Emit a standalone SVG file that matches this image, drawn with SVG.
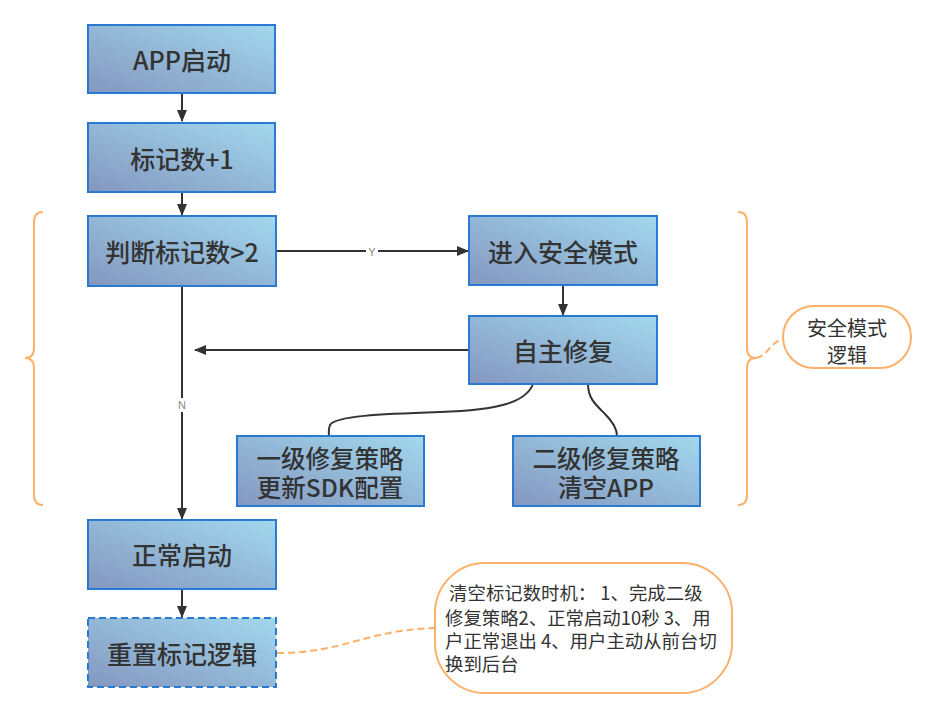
<svg xmlns="http://www.w3.org/2000/svg" width="936" height="718" viewBox="0 0 936 718">
<defs>
<linearGradient id="g" x1="0" y1="1" x2="1" y2="0">
<stop offset="0" stop-color="#8497bf"/>
<stop offset="1" stop-color="#a2d8ee"/>
</linearGradient>
<marker id="ah" markerWidth="12" markerHeight="10" refX="11" refY="5" orient="auto" markerUnits="userSpaceOnUse">
<path d="M0,0 L12,5 L0,10 Z" fill="#333"/>
</marker>
<style>
.box{fill:url(#g);stroke:#2a7ad2;stroke-width:2}
.dash{stroke-dasharray:7 4}
.t{font-family:"Noto Sans CJK SC","Noto Sans",sans-serif;font-size:25px;font-weight:500;fill:#333;text-anchor:middle;dominant-baseline:central}
.t2{font-size:24.5px}
.c{fill:none;stroke:#333;stroke-width:2}
.o{fill:none;stroke:#fdb06a;stroke-width:2}
.lab{font-family:"Liberation Sans",sans-serif;font-size:11px;fill:#888;text-anchor:middle;dominant-baseline:central}
.n{font-family:"Noto Sans CJK SC","Noto Sans",sans-serif;font-size:18.4px;fill:#333}
.s{font-family:"Noto Sans CJK SC","Noto Sans",sans-serif;font-size:20px;fill:#333;text-anchor:middle;dominant-baseline:central}
</style>
</defs>
<g id="connectors">
<line class="c" x1="182" y1="93" x2="182" y2="121" marker-end="url(#ah)"/>
<line class="c" x1="182" y1="192" x2="182" y2="215" marker-end="url(#ah)"/>
<line class="c" x1="276" y1="251" x2="468" y2="251" marker-end="url(#ah)"/>
<rect x="366" y="244" width="12" height="14" fill="#fff"/>
<text class="lab" x="372" y="252">Y</text>
<line class="c" x1="563" y1="285" x2="563" y2="315" marker-end="url(#ah)"/>
<line class="c" x1="469" y1="350" x2="195" y2="350" marker-end="url(#ah)"/>
<line class="c" x1="182" y1="286" x2="182" y2="519" marker-end="url(#ah)"/>
<rect x="176" y="398" width="12" height="14" fill="#fff"/>
<text class="lab" x="182" y="405">N</text>
<line class="c" x1="182" y1="589" x2="182" y2="617" marker-end="url(#ah)"/>
<path class="c" d="M533,384 C526,402 500,410 440,412 C380,414 335,416 330,425 C328,430 329,433 329,436"/>
<path class="c" d="M588,384 C588,398 595,404 605,414 C615,424 617,430 617,436"/>
<path class="o" d="M43,212 Q34,212 34,222 L34,348 Q34,358 25,358 Q34,358 34,368 L34,495 Q34,505 43,505"/>
<path class="o" d="M738,212 Q747,212 747,222 L747,348 Q747,358 756,358 Q747,358 747,368 L747,495 Q747,505 738,505"/>
<path class="o dash" d="M756,358 C768,356 770,342 783,339"/>
<path class="o dash" d="M277,653 C345,653 365,630 435,628"/>
</g>
<g id="n1"><rect class="box" x="88" y="25" width="187" height="68"/><text class="t" x="182" y="59">APP启动</text></g>
<g id="n2"><rect class="box" x="88" y="123" width="187" height="69"/><text class="t" x="182" y="158">标记数+1</text></g>
<g id="n3"><rect class="box" x="88" y="216" width="188" height="70"/><text class="t" x="182" y="251">判断标记数&gt;2</text></g>
<g id="n4"><rect class="box" x="469" y="216" width="188" height="69"/><text class="t" x="563" y="251">进入安全模式</text></g>
<g id="n5"><rect class="box" x="469" y="316" width="188" height="68"/><text class="t" x="563" y="350">自主修复</text></g>
<g id="n6"><rect class="box" x="237" y="436" width="187" height="70"/><text class="t t2" x="330" y="457">一级修复策略</text><text class="t t2" x="330" y="486">更新SDK配置</text></g>
<g id="n7"><rect class="box" x="513" y="436" width="187" height="70"/><text class="t t2" x="606" y="457">二级修复策略</text><text class="t t2" x="606" y="486">清空APP</text></g>
<g id="n8"><rect class="box" x="88" y="520" width="188" height="69"/><text class="t" x="182" y="554">正常启动</text></g>
<g id="n9"><rect class="box dash" x="88" y="618" width="188" height="69"/><text class="t" x="182" y="653">重置标记逻辑</text></g>
<g id="note1"><rect x="783" y="306" width="128" height="62" rx="31" fill="#fff" stroke="#fdb06a" stroke-width="2"/><text class="s" x="847" y="327">安全模式</text><text class="s" x="847" y="354">逻辑</text></g>
<g id="note2"><rect x="435" y="563" width="297" height="130" rx="50" fill="#fff" stroke="#fdb06a" stroke-width="2"/>
<text class="n" x="445" y="600" xml:space="preserve"> 清空标记数时机： 1、完成二级</text>
<text class="n" x="445" y="625">修复策略2、正常启动10秒 3、用</text>
<text class="n" x="445" y="648">户正常退出 4、用户主动从前台切</text>
<text class="n" x="445" y="671">换到后台</text></g>
</svg>
